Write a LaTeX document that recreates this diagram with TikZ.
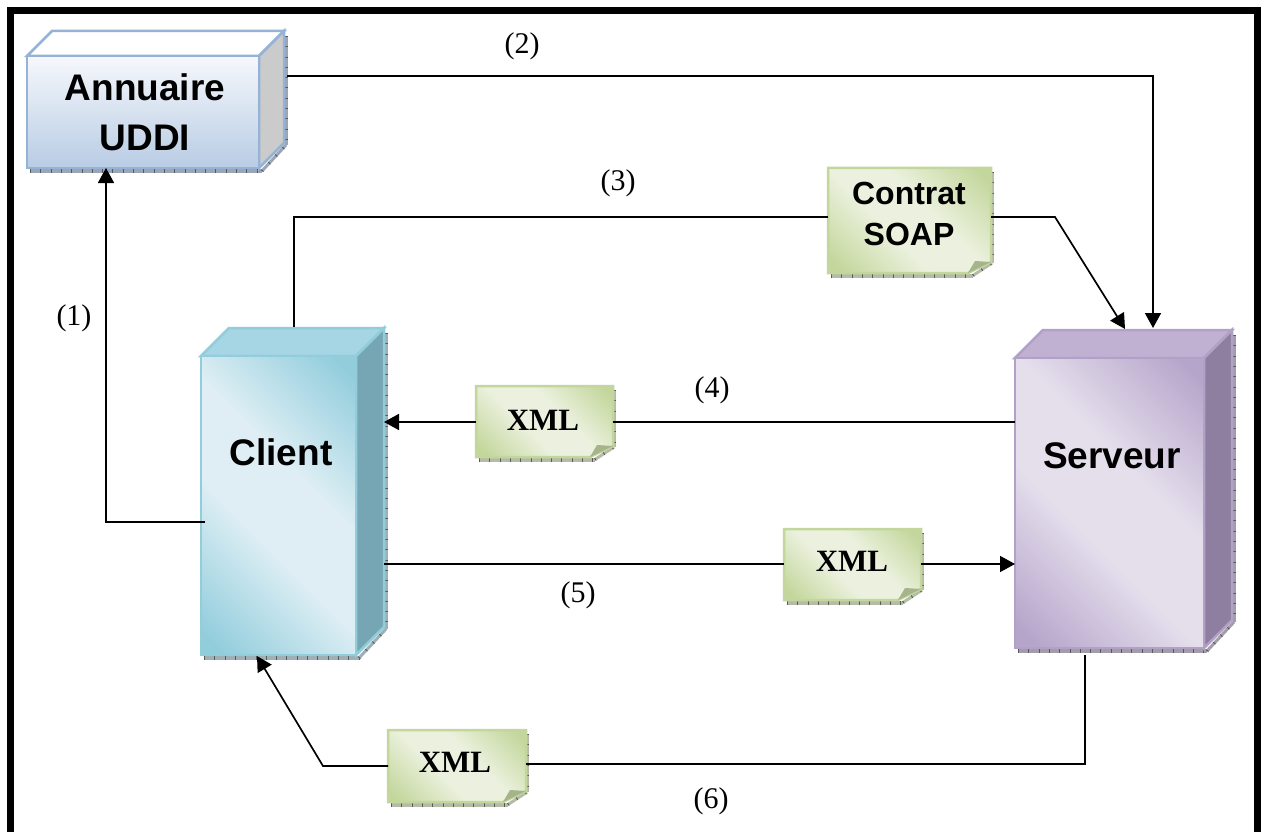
\documentclass[tikz,border=0pt]{standalone}
\usepackage{fontspec}
\setmainfont{Liberation Serif}
\newfontfamily\arialfont{Liberation Sans}
\usetikzlibrary{arrows.meta,calc}
\definecolor{uline}{HTML}{95B3D7}\definecolor{ulight}{HTML}{F6F8FC}\definecolor{udark}{HTML}{B8CCE4}\definecolor{uside}{HTML}{CBCBCB}\definecolor{utop}{HTML}{FFFFFF}\definecolor{ushadow}{HTML}{9AA6B5}
\definecolor{cline}{HTML}{92CDDC}\definecolor{clight}{HTML}{DEEEF4}\definecolor{cdark}{HTML}{92CDDC}\definecolor{cside}{HTML}{76A5B4}\definecolor{ctop}{HTML}{A6D5E3}\definecolor{cshadow}{HTML}{9DB0B5}
\definecolor{sline}{HTML}{B2A1C7}\definecolor{slight}{HTML}{E5DFEC}\definecolor{sdark}{HTML}{B6A5CB}\definecolor{sside}{HTML}{8E7FA0}\definecolor{stop}{HTML}{C0B1D3}\definecolor{sshadow}{HTML}{A39DA9}
\definecolor{nline}{HTML}{C3D69B}\definecolor{nlight}{HTML}{EBF1DE}\definecolor{ndark}{HTML}{C3D69B}\definecolor{nfold}{HTML}{A5B48A}\definecolor{nshadow}{HTML}{B4BBA6}
\pgfdeclarehorizontalshading{cband}{100bp}{color(0bp)=(cdark); color(18bp)=(cdark); color(42bp)=(clight); color(58bp)=(clight); color(82bp)=(cdark); color(100bp)=(cdark)}
\pgfdeclarehorizontalshading{sband}{100bp}{color(0bp)=(sdark); color(18bp)=(sdark); color(42bp)=(slight); color(58bp)=(slight); color(82bp)=(sdark); color(100bp)=(sdark)}
\pgfdeclarehorizontalshading{nband}{100bp}{color(0bp)=(ndark); color(18bp)=(ndark); color(42bp)=(nlight); color(58bp)=(nlight); color(82bp)=(ndark); color(100bp)=(ndark)}
\tikzset{
  conn/.style={line width=1.7pt,black},
  arrowconn/.style={conn,-{Triangle[length=15pt,width=16pt]}},
  steplabel/.style={font=\fontsize{30}{36}\selectfont,inner sep=0pt},
  cubetext/.style={font=\arialfont\fontsize{37}{50}\bfseries\selectfont,align=center,inner sep=0pt},
  contracttext/.style={font=\arialfont\fontsize{32}{41}\bfseries\selectfont,align=center,inner sep=0pt},
  xmltext/.style={font=\fontsize{31}{36}\bfseries\selectfont,inner sep=0pt},
  ticks/.style={line width=#1,black!65,dash pattern=on 0.9pt off 9.4pt},
  diagshade/.style={shade,shading=#1band,shading angle=45},
}
% drop shadow strip with tick marks
\newcommand{\hatchline}[3]{%
  \draw[#1,line width=#2] #3;
  \draw[ticks=#2] #3;
}
% #1 name #2 x1 #3 y1 #4 x2 #5 y2 #6 depth #7 colour prefix #8 front shading options
\newcommand{\cubebox}[8]{%
  \pgfmathsetmacro{\xa}{#2}\pgfmathsetmacro{\ya}{#3}\pgfmathsetmacro{\xb}{#4}\pgfmathsetmacro{\yb}{#5}
  \pgfmathsetmacro{\xc}{#2+#6}\pgfmathsetmacro{\yc}{#3-#6}\pgfmathsetmacro{\xd}{#4+#6}\pgfmathsetmacro{\yd}{#5-#6}
  \hatchline{#7shadow}{4.5pt}{(\xa+3,\yb+3) -- (\xb+3,\yb+3)}
  \hatchline{#7shadow}{3pt}{(\xb+3,\yb+3) -- (\xd+2,\yd+2)}
  \hatchline{#7shadow}{3pt}{(\xd+2,\yc+5) -- (\xd+2,\yd+2)}
  \draw[#7line,line width=2.5pt,line join=miter,fill=#7top] (\xa,\ya) -- (\xc,\yc) -- (\xd,\yc) -- (\xb,\ya) -- cycle;
  \draw[#7line,line width=2.5pt,line join=miter,fill=#7side] (\xb,\ya) -- (\xd,\yc) -- (\xd,\yd) -- (\xb,\yb) -- cycle;
  \node[draw=#7line,line width=2.5pt,inner sep=0pt,outer sep=0pt,minimum width={(#4-#2)*1pt},minimum height={(#5-#3)*1pt},#8] (#1) at ({(#2+#4)/2},{(#3+#5)/2}) {};
}
% #1 name #2 x1 #3 y1 #4 x2 #5 y2
\newcommand{\notebox}[5]{%
  \pgfmathsetmacro{\xa}{#2}\pgfmathsetmacro{\ya}{#3}\pgfmathsetmacro{\xb}{#4}\pgfmathsetmacro{\yb}{#5}
  \hatchline{nshadow}{4pt}{(\xa+3,\yb+2.5) -- (\xb-18,\yb+2.5)}
  \hatchline{nshadow}{3pt}{(\xb-18,\yb+2.5) -- (\xb+1,\yb-10)}
  \hatchline{nshadow}{2.5pt}{(\xb+1.5,\ya+4) -- (\xb+1.5,\yb-10)}
  \path[diagshade=n,draw=nline,line width=2.5pt] (\xa,\ya) -- (\xb,\ya) -- (\xb,\yb-11) -- (\xb-23,\yb) -- (\xa,\yb) -- cycle;
  \node[inner sep=0pt,outer sep=0pt,minimum width={(#4-#2)*1pt},minimum height={(#5-#3)*1pt}] (#1) at ({(#2+#4)/2},{(#3+#5)/2}) {};
  \fill[nfold] (\xb-23,\yb) -- (\xb-16,\yb-12) -- (\xb,\yb-11) -- cycle;
}
\begin{document}
\begin{tikzpicture}[x=1pt,y=-1pt]
\useasboundingbox (0,0) rectangle (1264,832);
\fill[white] (0,0) rectangle (1264,832);
% page frame
\coordinate (frameBL) at (10,832);
\coordinate (frameTL) at (10,11);
\coordinate (frameTR) at (1257,11);
\coordinate (frameBR) at (1257,832);
\draw[black,line width=7pt,line join=miter] (frameBL) -- (frameTL) -- (frameTR) -- (frameBR);

\cubebox{uddi}{27}{56}{259}{168}{25}{u}{top color=ulight,bottom color=udark}
\cubebox{client}{201}{356}{356}{655}{28}{c}{diagshade=c}
\cubebox{serveur}{1015}{358}{1204}{648}{28}{s}{diagshade=s}

\notebox{contrat}{828}{168}{991}{273}
\notebox{xmlA}{476}{386}{613}{457}
\notebox{xmlB}{784}{529}{921}{600}
\notebox{xmlC}{388}{730}{526}{802}

\node[cubetext] (uddilabel) at (145,112) {Annuaire\\UDDI};
\node[cubetext] (clientlabel) at (281,452) {Client};
\node[cubetext] (serveurlabel) at (1112,456) {Serveur};
\node[contracttext] (contratlabel) at (909,214) {Contrat\\SOAP};
\node[xmltext] (xmlAlabel) at (543,420) {XML};
\node[xmltext] (xmlBlabel) at (852,561) {XML};
\node[xmltext] (xmlClabel) at (455,762) {XML};

\node[steplabel] (n1) at (74,318) {(1)};
\node[steplabel] (n2) at (522,46) {(2)};
\node[steplabel] (n3) at (618,183) {(3)};
\node[steplabel] (n4) at (712,390) {(4)};
\node[steplabel] (n5) at (578,595) {(5)};
\node[steplabel] (n6) at (711,801) {(6)};

% connectors
\coordinate (c1a) at (205,522);
\coordinate (c1b) at (106,522);
\draw[arrowconn] (c1a) -- (c1b) -- (uddi.south -| c1b);
\coordinate (c2a) at (287,76);
\coordinate (c2b) at (1153,76);
\coordinate (c2c) at (1153,328);
\draw[arrowconn] (c2a) -- (c2b) -- (c2c);
\coordinate (c3a) at (294,327);
\coordinate (c3b) at (294,217);
\draw[conn] (c3a) -- (c3b) -- (contrat.west |- c3b);
\coordinate (c3c) at (1055,217);
\coordinate (c3d) at (1125,329);
\draw[arrowconn] (contrat.east |- c3c) -- (c3c) -- (c3d);
\coordinate (c4) at (1015,422);
\draw[conn] (c4) -- (xmlA.east |- c4);
\coordinate (c4b) at (384,422);
\draw[arrowconn] (xmlA.west |- c4b) -- (c4b);
\coordinate (c5) at (384,564);
\draw[conn] (c5) -- (xmlB.west |- c5);
\draw[arrowconn] (xmlB.east |- c5) -- (serveur.west |- c5);
\coordinate (c6a) at (1085,655);
\coordinate (c6b) at (1085,764);
\draw[conn] (c6a) -- (c6b) -- (xmlC.east |- c6b);
\coordinate (c6c) at (323,766);
\coordinate (c6d) at (257,656);
\draw[arrowconn] (xmlC.west |- c6c) -- (c6c) -- (c6d);
\end{tikzpicture}
\end{document}
